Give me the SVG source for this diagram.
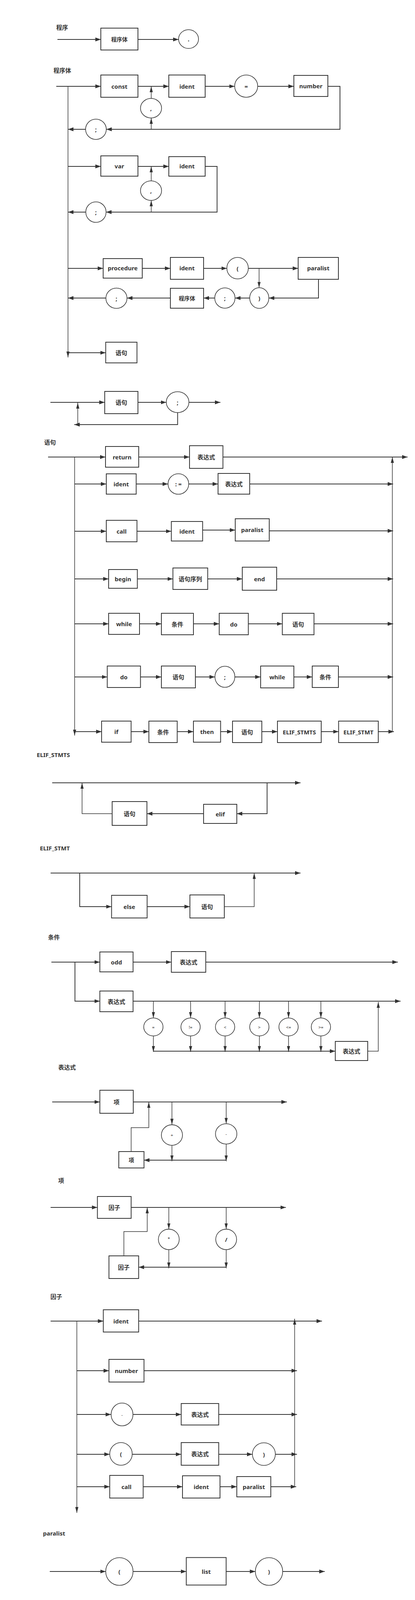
<svg xmlns="http://www.w3.org/2000/svg" width="1062" height="4433" viewBox="0 0 1062 4433">
<style>
.box{fill:#fff;stroke:#333;stroke-width:2}
.ell{fill:#fff;stroke:#333;stroke-width:1.6}
.l{font-family:"Noto Sans","Noto Sans CJK SC",sans-serif;font-size:15px;font-weight:bold;fill:#333;text-anchor:middle;dominant-baseline:central}
.m{font-size:14px}
.s{font-size:11px;font-weight:normal}
.tt{font-family:"Noto Sans","Noto Sans CJK SC",sans-serif;font-size:15px;font-weight:bold;fill:#333}
.c{fill:none;stroke:#333;stroke-width:2;marker-end:url(#ah)}
.n{fill:none;stroke:#333;stroke-width:2}
.v{fill:none;stroke:#333;stroke-width:1.5;marker-end:url(#av)}
.vn{fill:none;stroke:#333;stroke-width:1.5}
</style>
<defs>
<marker id="ah" markerUnits="userSpaceOnUse" markerWidth="14" markerHeight="10" refX="14" refY="5" orient="auto"><path d="M0,0L14,5L0,10z" fill="#333"/></marker>
<marker id="av" markerUnits="userSpaceOnUse" markerWidth="15" markerHeight="8" refX="15" refY="4" orient="auto"><path d="M0,0L15,4L0,8z" fill="#333"/></marker>
</defs>
<rect width="1062" height="4433" fill="#fff"/>

<g id="titles">
<text class="tt" x="144" y="76">程序</text>
<text class="tt" x="137" y="186">程序体</text>
<text class="tt" x="113" y="1138">语句</text>
<text class="tt" x="94" y="1938">ELIF_STMTS</text>
<text class="tt" x="102" y="2177">ELIF_STMT</text>
<text class="tt" x="123" y="2405">条件</text>
<text class="tt" x="149" y="2738">表达式</text>
<text class="tt" x="149" y="3028">项</text>
<text class="tt" x="129" y="3325">因子</text>
<text class="tt" x="110" y="3931">paralist</text>
<text class="tt" x="131" y="4124">list</text>
</g>

<g id="connectors">
<!-- 程序 -->
<path class="c" d="M147,101H258"/>
<path class="c" d="M353,101H457"/>
<!-- 程序体 const -->
<path class="c" d="M144,221H258"/>
<path class="v" d="M174,221V915"/>
<path class="c" d="M353,221H432"/>
<path class="c" d="M525,221H600.5"/>
<path class="c" d="M659.5,221H752"/>
<path class="c" d="M839,221H870V331H272"/>
<path class="v" d="M387,331V302"/>
<path class="v" d="M387,252V221"/>
<path class="c" d="M219,331H174"/>
<!-- var -->
<path class="c" d="M174,426H258"/>
<path class="c" d="M353,426H432"/>
<path class="c" d="M525,426H555.5V543H271.5"/>
<path class="v" d="M387,543V513"/>
<path class="v" d="M387,463V426"/>
<path class="c" d="M219.5,543H174"/>
<!-- procedure -->
<path class="c" d="M174,687H264"/>
<path class="c" d="M364,687H436"/>
<path class="c" d="M521,687H580.5"/>
<path class="c" d="M635.5,687H763"/>
<path class="v" d="M663,687V736.5"/>
<path class="c" d="M815,715V763H688"/>
<path class="c" d="M639,763H601.5"/>
<path class="c" d="M549.5,763H521"/>
<path class="c" d="M436,763H325"/>
<path class="c" d="M271,763H174"/>
<path class="c" d="M174,903H270.5"/>
<!-- 语句序列 loop -->
<path class="c" d="M129,1030H268"/>
<path class="c" d="M353,1030H425.5"/>
<path class="c" d="M483.5,1030H564"/>
<path class="c" d="M454.5,1056V1087H190"/>
<path class="v" d="M199,1087V1031"/>
<!-- 语句 -->
<path class="c" d="M123,1170H270"/>
<path class="v" d="M191,1170V1883"/>
<path class="c" d="M355,1170H485"/>
<path class="c" d="M570.5,1170H1043"/>
<path class="v" d="M1004,1873V1170"/>
<path class="c" d="M191,1239H272"/>
<path class="c" d="M348.5,1239H430"/>
<path class="c" d="M483,1239H558"/>
<path class="c" d="M639,1239H1006"/>
<path class="c" d="M191,1360H272"/>
<path class="c" d="M350.5,1360H438.5"/>
<path class="c" d="M518.5,1357H602"/>
<path class="c" d="M689,1359H1006"/>
<path class="c" d="M191,1482H278"/>
<path class="c" d="M351.5,1482H442.5"/>
<path class="c" d="M531.5,1482H620"/>
<path class="c" d="M708,1482H1006"/>
<path class="c" d="M191,1597H278"/>
<path class="c" d="M357,1597H413"/>
<path class="c" d="M495,1597H561"/>
<path class="c" d="M635.5,1597H722.5"/>
<path class="c" d="M803.5,1597H1006"/>
<path class="c" d="M191,1733H274.5"/>
<path class="c" d="M359.5,1733H413"/>
<path class="c" d="M500,1733H550"/>
<path class="c" d="M601,1733H667"/>
<path class="c" d="M752,1733H799"/>
<path class="c" d="M866,1733H1006"/>
<path class="c" d="M191,1873H260"/>
<path class="c" d="M335.5,1873H381"/>
<path class="c" d="M453.5,1873H495"/>
<path class="c" d="M564.5,1873H595"/>
<path class="c" d="M670,1873H710"/>
<path class="c" d="M822,1873H866.5"/>
<path class="c" d="M968,1873H1008"/>
<!-- ELIF_STMTS -->
<path class="c" d="M133.5,2004H769"/>
<path class="c" d="M683.5,2004V2083H606"/>
<path class="c" d="M521,2083H376"/>
<path class="v" d="M287,2083H210V2004"/>
<!-- ELIF_STMT -->
<path class="c" d="M129.5,2235H769"/>
<path class="c" d="M204,2235V2321H285.5"/>
<path class="c" d="M376.5,2321H486"/>
<path class="v" d="M574,2321H650.5V2235"/>
<!-- 条件 -->
<path class="c" d="M131.5,2463H255.5"/>
<path class="c" d="M191.8,2463V2563H255.5"/>
<path class="c" d="M340.5,2463H438.5"/>
<path class="c" d="M526.5,2463H1018"/>
<path class="c" d="M340.5,2563H1025"/>
<path class="v" d="M392.5,2563V2606"/>
<path class="v" d="M487.7,2563V2606"/>
<path class="v" d="M576,2563V2606"/>
<path class="v" d="M663.7,2563V2606"/>
<path class="v" d="M738.4,2563V2606"/>
<path class="v" d="M821.2,2563V2606"/>
<path class="v" d="M392.5,2652V2693"/>
<path class="v" d="M487.7,2652V2693"/>
<path class="v" d="M576,2652V2693"/>
<path class="v" d="M663.7,2652V2693"/>
<path class="v" d="M738.4,2652V2693"/>
<path class="v" d="M821.2,2652V2693"/>
<path class="c" d="M392.5,2691H858"/>
<path class="v" d="M941,2691H968V2565"/>
<!-- 表达式 -->
<path class="c" d="M133.5,2821H255.5"/>
<path class="c" d="M341,2821H734"/>
<path class="v" d="M440,2821V2879"/>
<path class="v" d="M578.8,2821V2876.7"/>
<path class="v" d="M440,2932V2973"/>
<path class="v" d="M578.8,2928.7V2973"/>
<path class="c" d="M578.8,2970H368.5"/>
<path class="v" d="M335.6,2948V2886.7H380.8V2821"/>
<!-- 项 -->
<path class="c" d="M129.5,3091H249.3"/>
<path class="c" d="M335.6,3091H731.5"/>
<path class="v" d="M432,3091V3146.7"/>
<path class="v" d="M578.8,3091V3146.7"/>
<path class="v" d="M432,3199V3247"/>
<path class="v" d="M578.8,3199V3247"/>
<path class="c" d="M578.8,3244H354.8"/>
<path class="v" d="M317,3215V3152.7H376.7V3091"/>
<!-- 因子 -->
<path class="c" d="M129.5,3382H264.4"/>
<path class="v" d="M196.6,3382V3873"/>
<path class="c" d="M354.8,3382H824"/>
<path class="v" d="M754,3806V3376"/>
<path class="c" d="M196.6,3509H278.8"/>
<path class="c" d="M368.5,3509H760"/>
<path class="c" d="M196.6,3621H284.3"/>
<path class="c" d="M340.3,3621H463.7"/>
<path class="c" d="M559.6,3621H760"/>
<path class="c" d="M196.6,3723H280.8"/>
<path class="c" d="M338.4,3723H463.7"/>
<path class="c" d="M559.6,3723H646"/>
<path class="c" d="M704.7,3723H760"/>
<path class="c" d="M196.6,3806H280.8"/>
<path class="c" d="M366.4,3806H467"/>
<path class="c" d="M563,3806H606"/>
<path class="c" d="M693,3806H758"/>
<!-- paralist -->
<path class="c" d="M127.4,4023H270.5"/>
<path class="c" d="M340.5,4023H476.7"/>
<path class="c" d="M578.8,4023H653.4"/>
<path class="c" d="M723.4,4023H831"/>
<!-- list -->
<path class="c" d="M130,4198.7H814"/>
<path class="v" d="M691.8,4198.7V4295"/>
<path class="c" d="M691.8,4282H580.8"/>
<path class="c" d="M495.2,4284H281.5"/>
<path class="v" d="M292.5,4284V4199"/>
<path class="v" d="M434.2,4284V4344.3"/>
<path class="v" d="M462.4,4373.3H538.4V4315.3"/>
</g>

<!-- 程序 -->
<g id="p-body"><rect class="box" x="258" y="72" width="95" height="56"/><text class="l m" x="305.5" y="100">程序体</text></g>
<g id="p-dot"><ellipse class="ell" cx="482.5" cy="100" rx="25.5" ry="24"/><text class="l" x="482.5" y="100">.</text></g>

<!-- 程序体 -->
<g id="b-const"><rect class="box" x="258" y="192" width="95" height="57"/><text class="l" x="305.5" y="220.5">const</text></g>
<g id="b-ident1"><rect class="box" x="432" y="192" width="93" height="57"/><text class="l" x="478.5" y="220.5">ident</text></g>
<g id="b-eq"><ellipse class="ell" cx="630" cy="220.5" rx="29.5" ry="28.5"/><text class="l" x="630" y="220.5">=</text></g>
<g id="b-number"><rect class="box" x="752" y="193" width="87" height="54"/><text class="l" x="795.5" y="220">number</text></g>
<g id="b-comma1"><ellipse class="ell" cx="386.5" cy="277" rx="27" ry="25"/><text class="l" x="386.5" y="277">,</text></g>
<g id="b-semi1"><ellipse class="ell" cx="245.5" cy="331" rx="26.5" ry="26"/><text class="l" x="245.5" y="331">;</text></g>
<g id="b-var"><rect class="box" x="258" y="399" width="95" height="52"/><text class="l" x="305.5" y="425">var</text></g>
<g id="b-ident2"><rect class="box" x="432" y="401" width="93" height="50"/><text class="l" x="478.5" y="425">ident</text></g>
<g id="b-comma2"><ellipse class="ell" cx="386.5" cy="488" rx="27" ry="25"/><text class="l" x="386.5" y="488">,</text></g>
<g id="b-semi2"><ellipse class="ell" cx="245.5" cy="543" rx="26" ry="26.3"/><text class="l" x="245.5" y="543">;</text></g>
<g id="b-procedure"><rect class="box" x="264" y="662" width="100" height="50"/><text class="l" x="314" y="686">procedure</text></g>
<g id="b-ident3"><rect class="box" x="436" y="659" width="85" height="56"/><text class="l" x="478.5" y="686">ident</text></g>
<g id="b-lp"><ellipse class="ell" cx="608" cy="686.5" rx="27.5" ry="27.5"/><text class="l" x="608" y="686.5">(</text></g>
<g id="b-paralist"><rect class="box" x="763" y="659" width="103" height="56"/><text class="l" x="814.5" y="686">paralist</text></g>
<g id="b-rp"><ellipse class="ell" cx="663.5" cy="763" rx="24.5" ry="26.5"/><text class="l" x="663.5" y="763">)</text></g>
<g id="b-semi3"><ellipse class="ell" cx="575.5" cy="763" rx="26" ry="26"/><text class="l" x="575.5" y="763">;</text></g>
<g id="b-body"><rect class="box" x="436" y="738" width="85" height="51"/><text class="l m" x="478.5" y="763">程序体</text></g>
<g id="b-semi4"><ellipse class="ell" cx="298" cy="763.5" rx="27" ry="26"/><text class="l" x="298" y="763.5">;</text></g>
<g id="b-stmt"><rect class="box" x="270.5" y="876" width="80" height="53"/><text class="l" x="310.5" y="902.5">语句</text></g>

<!-- 语句序列 -->
<g id="q-stmt"><rect class="box" x="268" y="1002" width="85" height="57"/><text class="l" x="310.5" y="1030">语句</text></g>
<g id="q-semi"><ellipse class="ell" cx="454.5" cy="1029.5" rx="29" ry="26.7"/><text class="l" x="454.5" y="1029.5">;</text></g>

<!-- 语句 -->
<g id="s-return"><rect class="box" x="270" y="1143" width="85" height="53"/><text class="l" x="312.5" y="1169.5">return</text></g>
<g id="s-expr1"><rect class="box" x="485" y="1141" width="85.5" height="58"/><text class="l" x="527.7" y="1170">表达式</text></g>
<g id="s-ident"><rect class="box" x="272" y="1213" width="76.5" height="52"/><text class="l" x="310.2" y="1239">ident</text></g>
<g id="s-assign"><ellipse class="ell" cx="456.5" cy="1239" rx="26.5" ry="26.3"/><text class="l" x="456.5" y="1239">: =</text></g>
<g id="s-expr2"><rect class="box" x="558" y="1212" width="81" height="53"/><text class="l" x="598.5" y="1238.5">表达式</text></g>
<g id="s-call"><rect class="box" x="272" y="1332" width="78.5" height="55"/><text class="l" x="311.2" y="1359.5">call</text></g>
<g id="s-ident2"><rect class="box" x="438.5" y="1335" width="80" height="50"/><text class="l" x="478.5" y="1360">ident</text></g>
<g id="s-paralist"><rect class="box" x="602" y="1328" width="87" height="57"/><text class="l" x="645.5" y="1356">paralist</text></g>
<g id="s-begin"><rect class="box" x="278" y="1458" width="73.5" height="48"/><text class="l" x="314.7" y="1482">begin</text></g>
<g id="s-seq"><rect class="box" x="442.5" y="1454" width="89" height="55"/><text class="l" x="487" y="1481.5">语句序列</text></g>
<g id="s-end"><rect class="box" x="620" y="1452" width="88" height="59"/><text class="l" x="664" y="1481.5">end</text></g>
<g id="s-while"><rect class="box" x="278" y="1570" width="79" height="54"/><text class="l" x="317.5" y="1597">while</text></g>
<g id="s-cond1"><rect class="box" x="413" y="1570" width="82" height="55"/><text class="l" x="454" y="1597.5">条件</text></g>
<g id="s-do1"><rect class="box" x="561" y="1570" width="74.5" height="55"/><text class="l" x="598.2" y="1597.5">do</text></g>
<g id="s-stmt1"><rect class="box" x="722.5" y="1570" width="81" height="55"/><text class="l" x="763" y="1597.5">语句</text></g>
<g id="s-do2"><rect class="box" x="274.5" y="1705" width="85" height="55"/><text class="l" x="317" y="1732.5">do</text></g>
<g id="s-stmt2"><rect class="box" x="413" y="1705" width="87" height="56"/><text class="l" x="456.5" y="1733">语句</text></g>
<g id="s-semi"><ellipse class="ell" cx="575.5" cy="1732.5" rx="25.5" ry="27"/><text class="l" x="575.5" y="1732.5">;</text></g>
<g id="s-while2"><rect class="box" x="667" y="1705" width="85" height="56"/><text class="l" x="709.5" y="1733">while</text></g>
<g id="s-cond2"><rect class="box" x="799" y="1705" width="67" height="55"/><text class="l" x="832.5" y="1732.5">条件</text></g>
<g id="s-if"><rect class="box" x="260" y="1846" width="75.5" height="54"/><text class="l" x="297.7" y="1873">if</text></g>
<g id="s-cond3"><rect class="box" x="381" y="1846" width="72.5" height="55"/><text class="l" x="417.2" y="1873.5">条件</text></g>
<g id="s-then"><rect class="box" x="495" y="1846" width="69.5" height="54"/><text class="l" x="529.7" y="1873">then</text></g>
<g id="s-stmt3"><rect class="box" x="595" y="1846" width="75" height="55"/><text class="l" x="632.5" y="1873.5">语句</text></g>
<g id="s-elifs"><rect class="box" x="710" y="1846" width="112" height="55"/><text class="l" x="766" y="1873.5">ELIF_STMTS</text></g>
<g id="s-elif"><rect class="box" x="866.5" y="1846" width="101.5" height="55"/><text class="l" x="917.2" y="1873.5">ELIF_STMT</text></g>

<!-- ELIF_STMTS -->
<g id="es-elif"><rect class="box" x="521" y="2059" width="85" height="49"/><text class="l" x="563.5" y="2083.5">elif</text></g>
<g id="es-stmt"><rect class="box" x="287" y="2052" width="89" height="61"/><text class="l" x="331.5" y="2082.5">语句</text></g>

<!-- ELIF_STMT -->
<g id="e-else"><rect class="box" x="285.5" y="2292" width="91" height="58"/><text class="l" x="331" y="2321">else</text></g>
<g id="e-stmt"><rect class="box" x="486" y="2291" width="88" height="59"/><text class="l" x="530" y="2320.5">语句</text></g>

<!-- 条件 -->
<g id="c-odd"><rect class="box" x="255.5" y="2437" width="85" height="51"/><text class="l" x="298" y="2462.5">odd</text></g>
<g id="c-expr1"><rect class="box" x="438.5" y="2436" width="88" height="53"/><text class="l" x="482.5" y="2462.5">表达式</text></g>
<g id="c-expr2"><rect class="box" x="255.5" y="2537" width="85" height="53"/><text class="l" x="298" y="2563.5">表达式</text></g>
<g id="c-eq"><ellipse class="ell" cx="392.5" cy="2629" rx="24.7" ry="23"/><text class="l s" x="392.5" y="2629">=</text></g>
<g id="c-ne"><ellipse class="ell" cx="487.7" cy="2629" rx="24.7" ry="23"/><text class="l s" x="487.7" y="2629">!=</text></g>
<g id="c-lt"><ellipse class="ell" cx="576" cy="2629" rx="24.7" ry="23"/><text class="l s" x="576" y="2629">&lt;</text></g>
<g id="c-gt"><ellipse class="ell" cx="663.7" cy="2629" rx="24.7" ry="23"/><text class="l s" x="663.7" y="2629">&gt;</text></g>
<g id="c-le"><ellipse class="ell" cx="738.4" cy="2629" rx="24.7" ry="23"/><text class="l s" x="738.4" y="2629">&lt;=</text></g>
<g id="c-ge"><ellipse class="ell" cx="821.2" cy="2629" rx="24.7" ry="23"/><text class="l s" x="821.2" y="2629">&gt;=</text></g>
<g id="c-expr3"><rect class="box" x="858" y="2666" width="83" height="49"/><text class="l" x="899.5" y="2690.5">表达式</text></g>

<!-- 表达式 -->
<g id="x-term"><rect class="box" x="255.5" y="2791" width="85.5" height="59"/><text class="l" x="298.2" y="2820.5">项</text></g>
<g id="x-plus"><ellipse class="ell" cx="440" cy="2905.7" rx="27" ry="26.3"/><text class="l s" x="440" y="2905.7">+</text></g>
<g id="x-minus"><ellipse class="ell" cx="578.8" cy="2902.7" rx="27.4" ry="26"/><text class="l s" x="578.8" y="2902.7">-</text></g>
<g id="x-term2"><rect class="box" x="304" y="2948" width="64.5" height="42"/><text class="l m" x="336.2" y="2969">项</text></g>

<!-- 项 -->
<g id="t-factor"><rect class="box" x="249.3" y="3063" width="86.3" height="56"/><text class="l" x="292.5" y="3091">因子</text></g>
<g id="t-mul"><ellipse class="ell" cx="432" cy="3172.8" rx="26.7" ry="26.2"/><text class="l s" x="432" y="3170">*</text></g>
<g id="t-div"><ellipse class="ell" cx="578.8" cy="3172.8" rx="26.7" ry="26.2"/><text class="l" x="578.8" y="3172.8">/</text></g>
<g id="t-factor2"><rect class="box" x="278.8" y="3215" width="76" height="58"/><text class="l" x="316.8" y="3244">因子</text></g>

<!-- 因子 -->
<g id="f-ident"><rect class="box" x="264.4" y="3353" width="90.4" height="57"/><text class="l" x="309.6" y="3381.5">ident</text></g>
<g id="f-number"><rect class="box" x="278.8" y="3480" width="89.7" height="58"/><text class="l" x="323.6" y="3509">number</text></g>
<g id="f-minus"><ellipse class="ell" cx="312.3" cy="3621" rx="28" ry="29.2"/><text class="l s" x="312.3" y="3621">-</text></g>
<g id="f-expr1"><rect class="box" x="463.7" y="3593" width="96" height="55"/><text class="l" x="511.7" y="3620.5">表达式</text></g>
<g id="f-lp"><ellipse class="ell" cx="309.6" cy="3722" rx="28.8" ry="29"/><text class="l" x="309.6" y="3722">(</text></g>
<g id="f-expr2"><rect class="box" x="463.7" y="3693" width="96" height="58"/><text class="l" x="511.7" y="3722">表达式</text></g>
<g id="f-rp"><ellipse class="ell" cx="675.3" cy="3722.5" rx="29.4" ry="29"/><text class="l" x="675.3" y="3722.5">)</text></g>
<g id="f-call"><rect class="box" x="280.8" y="3777" width="85.6" height="58"/><text class="l" x="323.6" y="3806">call</text></g>
<g id="f-ident2"><rect class="box" x="467" y="3778" width="96" height="57"/><text class="l" x="515" y="3806">ident</text></g>
<g id="f-paralist"><rect class="box" x="606" y="3780" width="87" height="52"/><text class="l" x="649.5" y="3806">paralist</text></g>

<!-- paralist -->
<g id="pl-lp"><ellipse class="ell" cx="305.5" cy="4023" rx="35" ry="35.5"/><text class="l" x="305.5" y="4023">(</text></g>
<g id="pl-list"><rect class="box" x="476.7" y="3987.3" width="102" height="70.4"/><text class="l" x="527.7" y="4022.5">list</text></g>
<g id="pl-rp"><ellipse class="ell" cx="688.4" cy="4023" rx="35" ry="35.5"/><text class="l" x="688.4" y="4023">)</text></g>

<!-- list -->
<g id="li-expr"><rect class="box" x="495.2" y="4252.7" width="85.6" height="62.6"/><text class="l" x="538" y="4284">表达式</text></g>
<g id="li-comma"><ellipse class="ell" cx="435" cy="4373" rx="27.4" ry="28.7"/><text class="l" x="435" y="4373">,</text></g>
</svg>
